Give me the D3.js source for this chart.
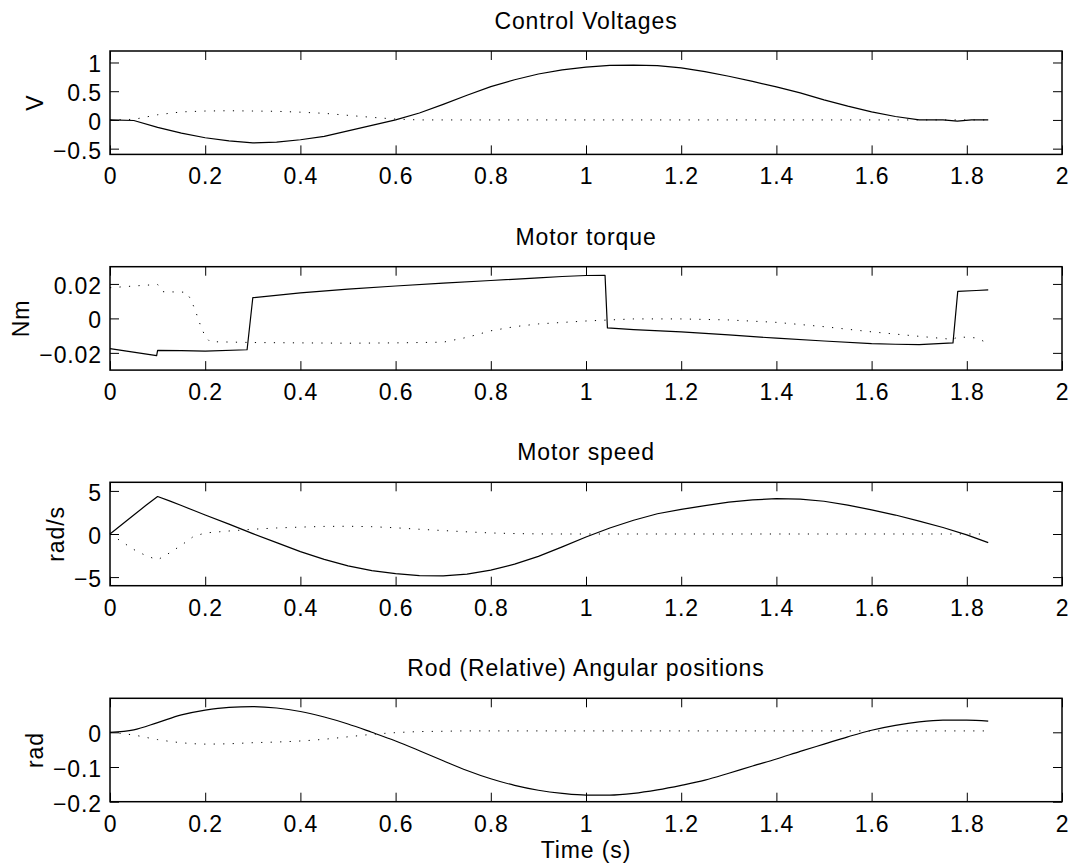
<!DOCTYPE html>
<html>
<head>
<meta charset="utf-8">
<script src="https://cdn.jsdelivr.net/npm/d3@7"></script>
<style>
  body { margin: 0; background: #fff; }
  svg text { font-family: "Liberation Sans", Arial, Helvetica, sans-serif; font-size: 23px; letter-spacing: 0.9px; fill: #000; }
</style>
</head>
<body>
<script>
// Data
const xTicks = [0, 0.2, 0.4, 0.6, 0.8, 1, 1.2, 1.4, 1.6, 1.8, 2];

// Control voltages
const timeVolt = [0, 0.05, 0.1, 0.15, 0.2, 0.25, 0.3, 0.35, 0.4, 0.45, 0.5, 0.55, 0.6, 0.65, 0.7, 0.75, 0.8, 0.85, 0.9, 0.95, 1, 1.05, 1.1, 1.15, 1.2, 1.25, 1.3, 1.35, 1.4, 1.45, 1.5, 1.55, 1.6, 1.65, 1.7, 1.75, 1.78, 1.81, 1.845];
const voltSolid = [0, -0.01, -0.13, -0.23, -0.31, -0.365, -0.4, -0.385, -0.345, -0.285, -0.19, -0.095, 0, 0.12, 0.27, 0.43, 0.58, 0.7, 0.8, 0.87, 0.92, 0.95, 0.955, 0.945, 0.905, 0.84, 0.76, 0.67, 0.575, 0.47, 0.35, 0.24, 0.14, 0.06, 0, 0, -0.02, 0, 0];
const voltDotted = [0, 0.01, 0.09, 0.14, 0.155, 0.16, 0.155, 0.15, 0.135, 0.115, 0.08, 0.045, 0.015, 0, 0, 0, 0, 0, 0, 0, 0, 0, 0, 0, 0, 0, 0, 0, 0, 0, 0, 0, 0, 0, 0, 0, 0, 0, 0];
const voltTicks = [-0.5, 0, 0.5, 1];

// Motor torque
const timeTorque = [0, 0.098, 0.1, 0.15, 0.2, 0.288, 0.3, 0.4, 0.5, 0.6, 0.7, 0.8, 0.9, 0.95, 1, 1.04, 1.045, 1.1, 1.2, 1.3, 1.4, 1.5, 1.6, 1.65, 1.7, 1.771, 1.781, 1.82, 1.845];
const torqueSolid = [-0.0175, -0.0216, -0.0185, -0.0187, -0.019, -0.0182, 0.012, 0.0148, 0.017, 0.0188, 0.0205, 0.022, 0.0235, 0.0243, 0.0249, 0.025, -0.0055, -0.0065, -0.0078, -0.0096, -0.0115, -0.0131, -0.0146, -0.015, -0.0152, -0.0142, 0.0157, 0.0162, 0.0166];
const timeTorqueDot = [0, 0.05, 0.1, 0.11, 0.16, 0.17, 0.18, 0.19, 0.2, 0.21, 0.3, 0.4, 0.5, 0.6, 0.7, 0.75, 0.8, 0.85, 0.9, 1, 1.1, 1.2, 1.3, 1.4, 1.5, 1.6, 1.7, 1.771, 1.781, 1.82, 1.845];
const torqueDotted = [0.0178, 0.0188, 0.0197, 0.0155, 0.0152, 0.011, 0.004, -0.004, -0.0105, -0.0135, -0.014, -0.0142, -0.0144, -0.0142, -0.0138, -0.011, -0.0072, -0.0048, -0.0032, -0.0015, -0.0003, -0.0003, -0.0009, -0.0023, -0.0048, -0.0078, -0.0104, -0.0122, -0.0107, -0.0113, -0.0145];
const torqueTicks = [-0.02, 0, 0.02];

// Motor speed
const timeSpeed = [0, 0.025, 0.05, 0.075, 0.1, 0.125, 0.15, 0.175, 0.2, 0.25, 0.3, 0.35, 0.4, 0.45, 0.5, 0.55, 0.6, 0.65, 0.7, 0.75, 0.8, 0.85, 0.9, 0.95, 1, 1.05, 1.1, 1.15, 1.2, 1.25, 1.3, 1.35, 1.4, 1.45, 1.5, 1.55, 1.6, 1.65, 1.7, 1.75, 1.8, 1.845];
const speedSolid = [0, 1.1, 2.2, 3.3, 4.35, 3.85, 3.3, 2.75, 2.2, 1.15, 0.05, -1.0, -2.05, -2.95, -3.7, -4.25, -4.6, -4.82, -4.85, -4.65, -4.2, -3.5, -2.6, -1.5, -0.35, 0.7, 1.6, 2.35, 2.85, 3.3, 3.7, 3.95, 4.1, 4.05, 3.8, 3.35, 2.8, 2.2, 1.5, 0.75, -0.1, -1.0];
const speedDotted = [0, -0.9, -1.8, -2.5, -3.0, -2.2, -1.3, -0.3, 0.12, 0.35, 0.55, 0.7, 0.8, 0.88, 0.9, 0.85, 0.72, 0.55, 0.4, 0.25, 0.12, 0.05, 0.01, 0, 0, 0, 0, 0, 0, 0, 0, 0, 0, 0, 0, 0, 0, 0, 0, 0, 0, 0];
const speedTicks = [-5, 0, 5];

// Rod (relative) angular positions
const timeRod = [0, 0.05, 0.1, 0.15, 0.2, 0.25, 0.3, 0.35, 0.4, 0.45, 0.5, 0.55, 0.6, 0.65, 0.7, 0.75, 0.8, 0.85, 0.9, 0.95, 1, 1.05, 1.1, 1.15, 1.2, 1.25, 1.3, 1.35, 1.4, 1.45, 1.5, 1.55, 1.6, 1.65, 1.7, 1.75, 1.8, 1.845];
const rodSolid = [0, 0.007, 0.028, 0.05, 0.064, 0.072, 0.074, 0.07, 0.06, 0.044, 0.024, 0, -0.025, -0.053, -0.082, -0.11, -0.134, -0.153, -0.167, -0.176, -0.181, -0.181, -0.176, -0.166, -0.153, -0.138, -0.118, -0.097, -0.077, -0.055, -0.034, -0.013, 0.006, 0.02, 0.03, 0.035, 0.035, 0.032];
const rodDotted = [0, -0.008, -0.021, -0.03, -0.034, -0.033, -0.03, -0.028, -0.025, -0.02, -0.013, -0.006, -0.001, 0.002, 0.003, 0.004, 0.004, 0.004, 0.004, 0.004, 0.004, 0.004, 0.004, 0.004, 0.004, 0.004, 0.004, 0.004, 0.004, 0.004, 0.004, 0.004, 0.004, 0.004, 0.004, 0.004, 0.004, 0.004];
const rodTicks = [-0.2, -0.1, 0];

// Layout
const width = 1074, height = 866;
const left = 110, right = 1062, plotH = 103.4;
const tops = [51, 266.7, 482.3, 698.3];

const panels = [
  { title: "Control Voltages", ylabel: "V", domain: [-0.6, 1.2], ticks: voltTicks, smooth: false,
    tSolid: timeVolt, solid: voltSolid, tDot: timeVolt, dotted: voltDotted },
  { title: "Motor torque", ylabel: "Nm", domain: [-0.03, 0.03], ticks: torqueTicks, smooth: false,
    tSolid: timeTorque, solid: torqueSolid, tDot: timeTorqueDot, dotted: torqueDotted },
  { title: "Motor speed", ylabel: "rad/s", domain: [-6, 6], ticks: speedTicks, smooth: false,
    tSolid: timeSpeed, solid: speedSolid, tDot: timeSpeed, dotted: speedDotted },
  { title: "Rod (Relative) Angular positions", ylabel: "rad", domain: [-0.2, 0.098], ticks: rodTicks, smooth: true,
    tSolid: timeRod, solid: rodSolid, tDot: timeRod, dotted: rodDotted }
];

const svg = d3.select("body").append("svg")
  .attr("width", width)
  .attr("height", height);

svg.append("rect").attr("width", width).attr("height", height).attr("fill", "#fff");

const x = d3.scaleLinear().domain([0, 2]).range([left, right]);
const fmt = d3.format("~g");

panels.forEach((p, i) => {
  const top = tops[i];
  const g = svg.append("g").attr("transform", `translate(0,${top})`);
  const y = d3.scaleLinear().domain(p.domain).range([plotH, 0]);
  const line = d3.line()
    .x(d => x(d[0]))
    .y(d => y(d[1]))
    .curve(p.smooth ? d3.curveMonotoneX : d3.curveLinear);

  // dotted series first, solid on top
  g.append("path")
    .datum(d3.zip(p.tDot, p.dotted))
    .attr("d", line)
    .attr("fill", "none")
    .attr("stroke", "#000")
    .attr("stroke-width", 1)
    .attr("stroke-dasharray", "1.2,8.3");

  g.append("path")
    .datum(d3.zip(p.tSolid, p.solid))
    .attr("d", line)
    .attr("fill", "none")
    .attr("stroke", "#000")
    .attr("stroke-width", 1.2)
    .attr("stroke-linejoin", "round");

  // bottom axis with labels
  g.append("g")
    .attr("transform", `translate(0,${plotH})`)
    .call(d3.axisBottom(x).tickValues(xTicks).tickSizeInner(-9).tickSizeOuter(0).tickFormat(fmt))
    .call(a => a.select(".domain").remove())
    .call(a => a.selectAll("text").attr("y", 30).attr("dy", null));

  // top axis, ticks only
  g.append("g")
    .call(d3.axisTop(x).tickValues(xTicks).tickSizeInner(-9).tickSizeOuter(0).tickFormat(""))
    .call(a => a.select(".domain").remove());

  // left axis with labels
  const yAxis = g.append("g")
    .attr("transform", `translate(${left},0)`)
    .call(d3.axisLeft(y).tickValues(p.ticks).tickSizeInner(-9).tickSizeOuter(0).tickFormat(fmt))
    .call(a => a.select(".domain").remove())
    .call(a => a.selectAll("text").attr("x", -8).attr("y", 9.5).attr("dy", null));

  // right axis, ticks only
  g.append("g")
    .attr("transform", `translate(${right},0)`)
    .call(d3.axisRight(y).tickValues(p.ticks).tickSizeInner(-9).tickSizeOuter(0).tickFormat(""))
    .call(a => a.select(".domain").remove());

  g.selectAll(".tick line").attr("stroke", "#000").attr("stroke-width", 1);

  // box
  g.append("rect")
    .attr("x", left).attr("y", 0)
    .attr("width", right - left).attr("height", plotH)
    .attr("fill", "none")
    .attr("stroke", "#000")
    .attr("stroke-width", 1.5);

  // title
  g.append("text")
    .attr("x", (left + right) / 2)
    .attr("y", -22)
    .attr("text-anchor", "middle")
    .text(p.title);

  // y label, placed just left of the widest tick label
  let minX = Infinity;
  yAxis.selectAll("text").each(function () { minX = Math.min(minX, this.getBBox().x); });
  const lx = left + minX - 10;
  g.append("text")
    .attr("transform", `translate(${lx},${plotH / 2}) rotate(-90)`)
    .attr("text-anchor", "middle")
    .text(p.ylabel);
});

// x label
svg.append("text")
  .attr("x", (left + right) / 2)
  .attr("y", tops[3] + plotH + 56)
  .attr("text-anchor", "middle")
  .text("Time (s)");
</script>
</body>
</html>
